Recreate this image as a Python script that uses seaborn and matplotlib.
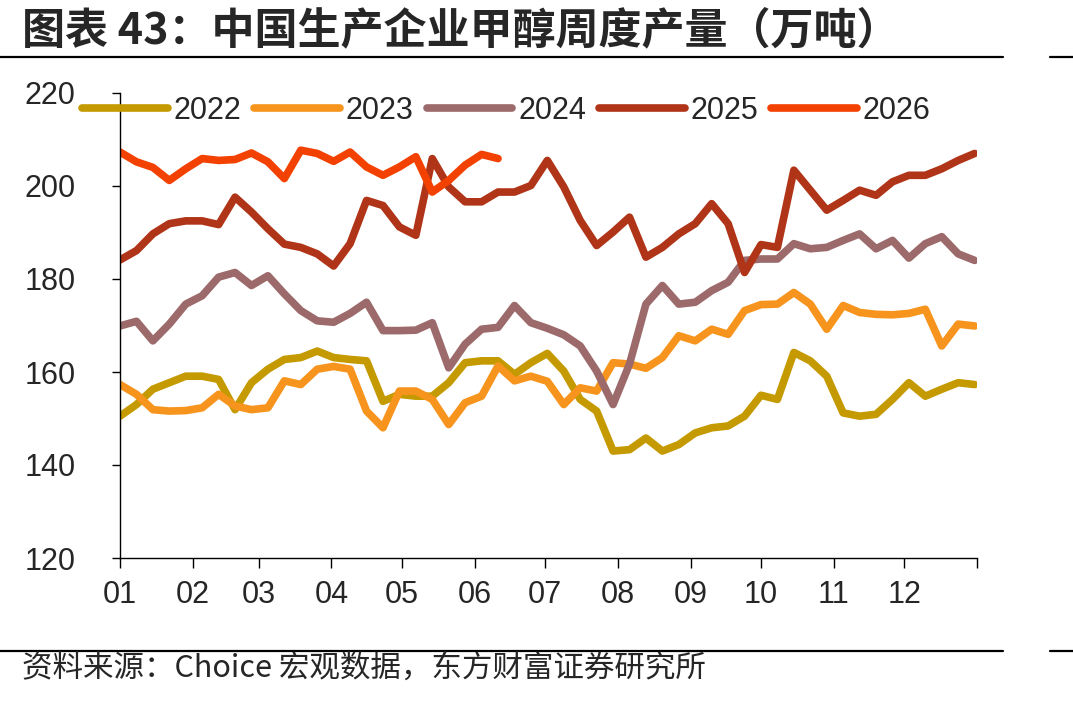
import matplotlib
matplotlib.use("Agg")
import matplotlib.pyplot as plt
import pandas as pd
import seaborn as sns
from matplotlib.lines import Line2D

# ---------------- data (weekly output, 10k tonnes) ----------------
years = ["2022", "2023", "2024", "2025", "2026"]
v2022 = [150.5, 153.0, 156.3, 157.7, 159.1, 159.1, 158.4, 151.9, 157.7, 160.6, 162.7, 163.1, 164.5, 163.1,
         162.7, 162.4, 153.7, 155.2, 154.8, 154.8, 157.7, 162.0, 162.4, 162.4, 159.5, 162.0, 164.0,
         160.2, 154.1, 151.6, 143.0, 143.3, 145.8, 143.0, 144.4, 146.9, 148.0, 148.4, 150.5, 155.0,
         154.1, 164.2, 162.4, 159.1, 151.2, 150.5, 150.9, 154.1, 157.7, 154.8, 156.3, 157.7, 157.3]
v2023 = [157.3, 155.2, 151.9, 151.6, 151.7, 152.3, 155.2, 152.7, 151.9, 152.3, 158.1, 157.3, 160.6, 161.2,
         160.6, 151.6, 148.0, 155.9, 155.9, 154.1, 148.7, 153.4, 154.8, 161.3, 158.1, 159.1, 158.0,
         153.0, 156.6, 155.9, 162.0, 161.7, 160.8, 163.1, 167.8, 166.7, 169.2, 168.1, 173.2, 174.5,
         174.6, 177.1, 174.6, 169.2, 174.3, 172.8, 172.4, 172.3, 172.6, 173.5, 165.6, 170.3, 169.9]
v2024 = [169.9, 170.9, 166.7, 170.3, 174.6, 176.4, 180.4, 181.4, 178.6, 180.7, 176.8, 173.2, 171.0, 170.7,
         172.6, 175.0, 168.9, 168.9, 169.0, 170.6, 160.9, 166.0, 169.2, 169.6, 174.3, 170.6, 169.4,
         168.0, 165.6, 160.2, 153.0, 161.7, 174.6, 178.6, 174.6, 175.0, 177.5, 179.3, 184.0, 184.3,
         184.3, 187.6, 186.5, 186.8, 188.3, 189.7, 186.5, 188.3, 184.5, 187.6, 189.1, 185.4, 184.0]
v2025 = [184.1, 186.1, 189.7, 191.9, 192.5, 192.5, 191.7, 197.6, 194.4, 190.8, 187.5, 186.8, 185.4, 182.8,
         187.6, 196.9, 195.8, 191.2, 189.4, 205.9, 199.8, 196.6, 196.6, 198.7, 198.7, 200.1, 205.5,
         199.8, 192.6, 187.2, 190.1, 193.3, 184.7, 186.8, 189.7, 191.9, 196.2, 191.9, 181.4, 187.4,
         186.8, 203.4, 199.1, 194.8, 196.9, 199.1, 198.0, 200.9, 202.3, 202.3, 203.7, 205.5, 207.0]
v2026 = [207.3, 205.2, 204.0, 201.2, 203.7, 205.9, 205.5, 205.7, 207.1, 205.2, 201.6, 207.7, 207.0, 205.3,
         207.3, 204.1, 202.3, 204.1, 206.3, 198.7, 201.2, 204.5, 206.8, 205.9]
series = {"2022": v2022, "2023": v2023, "2024": v2024, "2025": v2025, "2026": v2026}

month_ticks = [0, 31, 59, 90, 120, 151, 181, 212, 243, 273, 304, 334, 365]
month_labels = ["01", "02", "03", "04", "05", "06", "07", "08", "09", "10", "11", "12", ""]
y_ticks = [120, 140, 160, 180, 200, 220]
palette = {"2022": "#C49A00", "2023": "#F7941D", "2024": "#9C6A6A", "2025": "#B03418", "2026": "#F24100"}

title = "图表 43：中国生产企业甲醇周度产量（万吨）"
source = "资料来源：Choice 宏观数据，东方财富证券研究所"

rows = []
for y in years:
    for k, v in enumerate(series[y]):
        rows.append({"day": k * 7, "value": v, "year": y})
df = pd.DataFrame(rows)

# ---------------- style ----------------
sns.set_theme(style="white")
plt.rcParams["font.family"] = ["Liberation Sans", "Noto Sans CJK SC", "DejaVu Sans"]

W, H = 1073, 701
fig = plt.figure(figsize=(W / 100, H / 100), dpi=100)
ax = fig.add_axes([120 / W, 1 - 558 / H, 857 / W, 465 / H])

sns.lineplot(data=df, x="day", y="value", hue="year", palette=palette, hue_order=years,
             linewidth=5.5, ax=ax, legend=True, sort=False)
for ln in ax.get_lines():
    ln.set_solid_joinstyle("round")
    ln.set_solid_capstyle("round")

handles, labels = ax.get_legend_handles_labels()
ax.get_legend().remove()
for h in handles:
    h.set_linewidth(5.5)
fig.legend(handles, labels, loc="center left", bbox_to_anchor=(82 / W, 1 - 111 / H), ncol=5,
           frameon=False, fontsize=22, handlelength=2.8, handletextpad=0.2, columnspacing=0.42,
           borderpad=0, borderaxespad=0)

ax.set_xlim(0, 365)
ax.set_ylim(120, 220)
ax.set_xticks(month_ticks)
ax.set_xticklabels(month_labels)
ax.set_yticks(y_ticks)
ax.set_xlabel("")
ax.set_ylabel("")
for s in ["top", "right"]:
    ax.spines[s].set_visible(False)
for s in ["left", "bottom"]:
    ax.spines[s].set_color("black")
    ax.spines[s].set_linewidth(1.0)
ax.tick_params(axis="x", direction="out", length=7, width=1, color="black", labelsize=22, pad=9,
               bottom=True)
ax.tick_params(axis="y", direction="out", length=6, width=1, color="black", labelsize=22, pad=26,
               left=True)
ax.grid(False)

# title / source and separator rules
fig.text(22 / W, 1 - 30 / H, title, fontsize=31, fontweight="bold",
         family=["Noto Sans CJK SC", "DejaVu Sans"], ha="left", va="center")
for yy in (57, 651):
    fig.add_artist(Line2D([0, 1003 / W], [1 - yy / H] * 2, color="black", lw=1.6))
    fig.add_artist(Line2D([1050 / W, 1], [1 - yy / H] * 2, color="black", lw=1.6))
fig.text(22 / W, 1 - 668 / H, source, fontsize=22,
         family=["Noto Sans CJK SC", "DejaVu Sans"], ha="left", va="center")

fig.savefig("out.png", dpi=100)
